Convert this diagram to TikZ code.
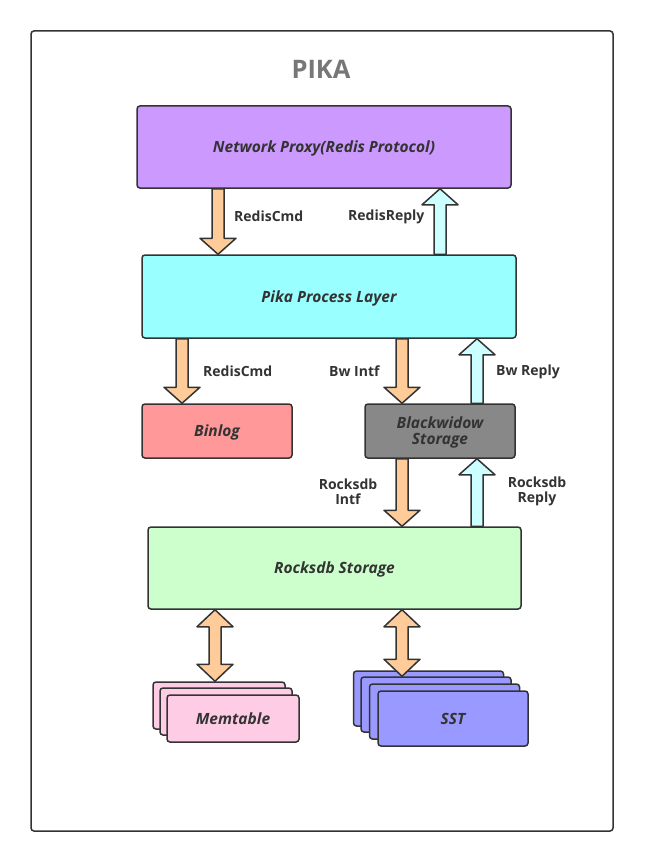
\documentclass[tikz,border=0pt]{standalone}
\usepackage{fontspec}
\setmainfont{Open Sans}
\usetikzlibrary{calc}

\definecolor{edge}{HTML}{333333}
\definecolor{titlegray}{HTML}{777777}
\definecolor{proxyfill}{HTML}{CC99FF}
\definecolor{pikafill}{HTML}{99FFFF}
\definecolor{binlogfill}{HTML}{FF9999}
\definecolor{bwfill}{HTML}{888888}
\definecolor{rocksfill}{HTML}{CCFFCC}
\definecolor{memfill}{HTML}{FFCCE6}
\definecolor{sstfill}{HTML}{9999FF}
\definecolor{cmdfill}{HTML}{FFCC99}
\definecolor{replyfill}{HTML}{CCFFFF}

\tikzset{
  layer/.style={draw=edge, line width=1.5pt, rounded corners=3pt, inner sep=0pt,
    text=edge, align=center, text depth=0pt, font=\bfseries\itshape\fontsize{15.5}{16}\selectfont},
  lbl/.style={text=edge, align=center, inner sep=0pt, font=\bfseries\fontsize{14}{15}\selectfont},
  % block arrow, tip at the target
  block/.style={draw=edge, line width=1.5pt, line join=round, to path={
    let \p1=(\tikztostart), \p2=(\tikztotarget),
        \p3=($(\tikztotarget)!16pt!(\tikztostart)$) in
    (\x1-6,\y1) -- (\x3-6,\y3) -- (\x3-18,\y3) -- (\x2,\y2)
    -- (\x3+18,\y3) -- (\x3+6,\y3) -- (\x1+6,\y1) -- cycle}},
  % block arrow, tips at both ends
  dblock/.style={draw=edge, line width=1.5pt, line join=round, to path={
    let \p1=(\tikztostart), \p2=(\tikztotarget),
        \p3=($(\tikztostart)!17pt!(\tikztotarget)$),
        \p4=($(\tikztotarget)!17pt!(\tikztostart)$) in
    (\x1,\y1) -- (\x3+18,\y3) -- (\x3+6,\y3) -- (\x4+6,\y4) -- (\x4+18,\y4)
    -- (\x2,\y2) -- (\x4-18,\y4) -- (\x4-6,\y4) -- (\x3-6,\y3) -- (\x3-18,\y3) -- cycle}}
}

\begin{document}
\begin{tikzpicture}[x=1pt, y=-1pt]
    \useasboundingbox[fill=white] (0,0) rectangle (647,861);

    % frame
    \draw[edge, line width=1.5pt, rounded corners=3pt] (31,31) rectangle (613,831);

    \node[text=titlegray, font=\bfseries\fontsize{25.5}{28}\selectfont] (title) at (321,69) {PIKA};

    % layers
    \node[layer, fill=proxyfill, minimum width=374pt, minimum height=82pt] (proxy) at (324,147) {Network Proxy(Redis Protocol)};
    \node[layer, fill=pikafill, minimum width=374pt, minimum height=83pt] (pika) at (329,296.5) {Pika Process Layer};
    \node[layer, fill=binlogfill, minimum width=150pt, minimum height=54pt] (binlog) at (217,431) {Binlog};
    \node[layer, fill=bwfill, minimum width=150pt, minimum height=54pt] (bw) at (440,431) {Blackwidow\\Storage};
    \node[layer, fill=rocksfill, minimum width=373pt, minimum height=82pt] (rocks) at (334.5,568) {Rocksdb Storage};

    % memtable stack
    \foreach \i/\dx/\dy in {3/-14/-13, 2/-7/-7}
      \node[layer, fill=memfill, minimum width=132pt, minimum height=47pt] (mem\i) at (233+\dx,718.5+\dy) {};
    \node[layer, fill=memfill, minimum width=132pt, minimum height=47pt] (mem1) at (233,718.5) {Memtable};

    % sst stack
    \foreach \i/\dx/\dy in {4/-24.5/-20, 3/-17/-14, 2/-8.5/-7}
      \node[layer, fill=sstfill, minimum width=150pt, minimum height=55pt] (sst\i) at (453+\dx,718.5+\dy) {};
    \node[layer, fill=sstfill, minimum width=150pt, minimum height=55pt] (sst1) at (453,718.5) {SST};

    % arrow lanes
    \coordinate (a) at (218,0);
    \coordinate (b) at (440,0);
    \coordinate (c) at (182,0);
    \coordinate (d) at (402,0);
    \coordinate (e) at (477,0);
    \coordinate (f) at (215,0);

    \draw[block, fill=cmdfill] (a |- proxy.south) to (a |- pika.north);
    \draw[block, fill=replyfill] (b |- pika.north) to (b |- proxy.south);
    \draw[block, fill=cmdfill] (c |- pika.south) to (c |- binlog.north);
    \draw[block, fill=cmdfill] (d |- pika.south) to (d |- bw.north);
    \draw[block, fill=replyfill] (e |- bw.north) to (e |- pika.south);
    \draw[block, fill=cmdfill] (d |- bw.south) to (d |- rocks.north);
    \draw[block, fill=replyfill] (e |- rocks.north) to (e |- bw.south);
    \draw[dblock, fill=cmdfill] (f |- rocks.south) to (f |- mem3.north);
    \draw[dblock, fill=cmdfill] (d |- rocks.south) to (d |- sst3.north);

    % labels
    \node[lbl, anchor=west] (cmd1) at (234,216.5) {RedisCmd};
    \node[lbl, anchor=west] (reply1) at (348,216.5) {RedisReply};
    \node[lbl, anchor=west] (cmd2) at (203,371.5) {RedisCmd};
    \node[lbl, anchor=west] (bwintf) at (329,371.5) {Bw Intf};
    \node[lbl, anchor=west] (bwreply) at (496,371.5) {Bw Reply};
    \node[lbl] (rintf) at (348,491.5) {Rocksdb\\Intf};
    \node[lbl] (rreply) at (537,491.5) {Rocksdb\\Reply};

\end{tikzpicture}
\end{document}
